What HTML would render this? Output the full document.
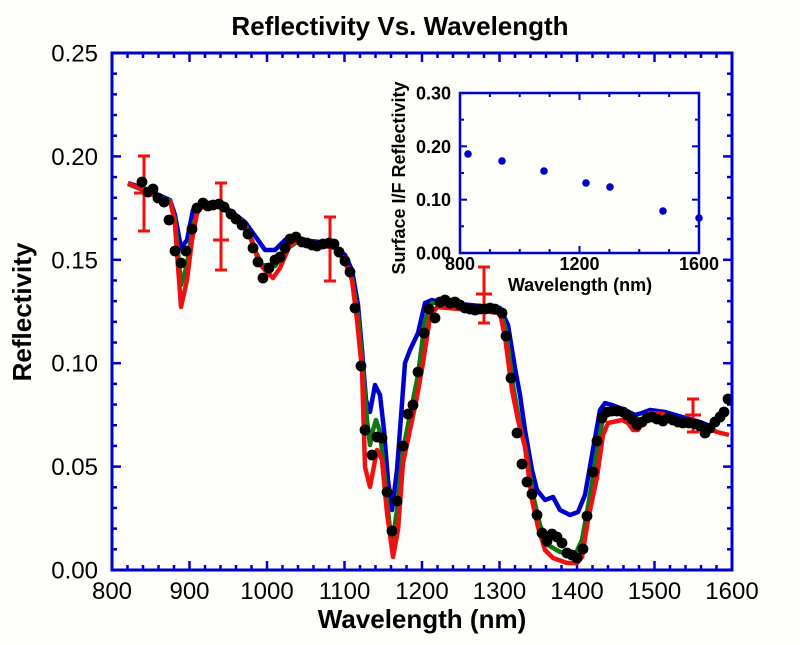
<!DOCTYPE html>
<html><head><meta charset="utf-8"><style>
html,body{margin:0;padding:0;background:#fdfdf9;}
svg{display:block;}
text{font-family:"Liberation Sans",Arial,sans-serif;fill:#000;}
</style></head><body>
<svg id="s" width="800" height="645" viewBox="0 0 800 645" xmlns="http://www.w3.org/2000/svg">
<rect width="800" height="645" fill="#fdfdf9"/>
<text x="400" y="35" font-size="26" font-weight="bold" text-anchor="middle">Reflectivity Vs. Wavelength</text>
<text transform="translate(31,312) rotate(-90)" font-size="26" font-weight="bold" text-anchor="middle">Reflectivity</text>
<text x="422" y="628" font-size="26" font-weight="bold" text-anchor="middle">Wavelength (nm)</text>
<g id="ticks"></g>
<g id="curves" fill="none" stroke-linejoin="round" stroke-width="4.5"></g>
<g id="err" stroke="#ee1111" stroke-width="3" fill="none"></g>
<g id="dots" fill="#000"></g>
<rect x="112" y="53" width="620" height="517" fill="none" stroke="#0000cc" stroke-width="3"/>
<g id="inset"></g>
</svg>
<script>
const NS="http://www.w3.org/2000/svg";
function el(p,t,a,txt){const e=document.createElementNS(NS,t);for(const k in a)e.setAttribute(k,a[k]);if(txt!==undefined)e.textContent=txt;document.getElementById(p).appendChild(e);return e;}
const B="#0000cc";
for(let nm=800;nm<=1600;nm+=20){const x=112+(nm-800)*0.775;const maj=nm%100==0;const L=maj?9:5;
 el("ticks","line",{x1:x,y1:570,x2:x,y2:570-L,stroke:B,"stroke-width":2.5});
 el("ticks","line",{x1:x,y1:53,x2:x,y2:53+L,stroke:B,"stroke-width":2.5});
 if(maj)el("ticks","text",{x:x,y:599,"font-size":24,"text-anchor":"middle"},String(nm));}
for(let i=0;i<=25;i++){const y=570-i*0.01*2068;const maj=i%5==0;const L=maj?9:5;
 el("ticks","line",{x1:112,y1:y,x2:112+L,y2:y,stroke:B,"stroke-width":2.5});
 el("ticks","line",{x1:732,y1:y,x2:732-L,y2:y,stroke:B,"stroke-width":2.5});
 if(maj)el("ticks","text",{x:98,y:y+8.5,"font-size":24,"text-anchor":"end"},(i/100).toFixed(2));}
function pl(col,pts){el("curves","polyline",{stroke:col,points:pts.map(p=>p.join(",")).join(" ")});}
const blue=[[128,183],[143,188],[170,200],[175,215],[181,248],[187,240],[193,210],[200,205],[220,203],[245,222],[258,240],[265,250],[275,250],[285,240],[300,240],[330,243],[345,255],[352,270],[358,305],[362,350],[366,400],[370,412],[375,385],[380,395],[384,430],[388,480],[392,510],[397,470],[400,430],[405,363],[410,350],[418,333],[425,303],[432,300],[440,302],[500,308],[508,325],[515,368],[520,395],[525,430],[532,470],[537,490],[545,500],[553,497],[560,510],[570,515],[578,512],[585,495],[592,455],[600,410],[605,403],[612,405],[625,410],[635,415],[642,413],[650,410],[665,412],[700,422],[712,427]];
const green=[[128,184],[170,201],[175,220],[181,285],[187,265],[193,225],[200,206],[220,204],[245,224],[255,250],[262,265],[275,266],[285,250],[300,240],[335,246],[345,260],[352,278],[358,315],[363,370],[367,420],[370,445],[373,430],[376,420],[380,432],[384,470],[389,520],[392,545],[397,510],[403,450],[410,415],[418,375],[425,320],[432,303],[440,303],[500,310],[506,330],[513,385],[519,420],[526,450],[533,495],[540,525],[548,545],[560,552],[575,555],[582,540],[590,495],[598,445],[603,418],[610,413],[625,413],[635,418],[642,420],[650,414],[665,415],[700,425],[712,428]];
const red=[[128,183],[143,190],[160,198],[171,203],[175,225],[181,307],[187,280],[192,240],[198,208],[205,207],[215,205],[225,210],[240,222],[252,240],[258,260],[263,268],[273,278],[280,268],[290,245],[300,240],[320,245],[335,248],[345,262],[352,280],[357,320],[362,370],[365,467],[370,487],[377,450],[382,460],[387,513],[393,557],[398,530],[403,463],[410,430],[417,397],[423,363],[430,317],[437,307],[470,310],[500,313],[505,337],[512,390],[518,420],[525,447],[532,500],[538,527],[545,550],[553,558],[567,563],[577,563],[582,557],[588,520],[597,477],[603,435],[608,423],[622,420],[628,423],[633,430],[638,430],[643,422],[650,413],[663,414],[677,420],[693,425],[707,428],[717,432],[729,435]];
pl("#0000cc",blue);pl("#117711",green);pl("#ee1111",red);
[[144,156,231,193,10],[221,183,270,240,8],[330,217,281,247,8],[484,267,323,294,8],[693,399,432,415,8]].forEach(b=>{
 el("err","line",{x1:b[0],y1:b[1],x2:b[0],y2:b[2]});
 el("err","line",{x1:b[0]-6,y1:b[1],x2:b[0]+6,y2:b[1]});
 el("err","line",{x1:b[0]-6,y1:b[2],x2:b[0]+6,y2:b[2]});
 el("err","line",{x1:b[0]-b[4],y1:b[3],x2:b[0]+b[4],y2:b[3]});});
const dots=[[142,182],[148,192],[153,189],[158,198],[164,202],[169,220],[175,251],[181,263],[186,251],[192,229],[197,208],[203,203],[208,206],[213,205],[219,204],[224,207],[231,214],[236,219],[242,225],[248,234],[253,248],[258,262],[263,278],[269,268],[275,260],[280,257],[285,248],[290,239],[296,237],[302,242],[307,243],[312,245],[317,246],[323,244],[329,243],[334,244],[339,252],[345,261],[350,272],[355,308],[361,366],[365,430],[372,455],[377,437],[382,438],[387,492],[392,531],[397,501],[403,446],[408,414],[413,405],[418,372],[424,333],[429,309],[435,318],[440,302],[445,300],[450,303],[455,302],[460,305],[465,308],[470,309],[475,310],[480,309],[485,309],[490,308],[495,309],[502,313],[506,336],[511,378],[517,433],[522,464],[527,482],[532,494],[537,515],[542,533],[547,541],[552,534],[557,537],[562,543],[567,553],[572,555],[577,558],[583,549],[587,516],[593,472],[597,441],[602,418],[607,412],[612,411],[617,411],[623,412],[627,415],[632,419],[637,425],[642,422],[647,418],[652,417],[657,419],[663,421],[668,418],[673,420],[678,422],[683,423],[689,423],[695,424],[700,426],[705,433],[710,428],[715,422],[720,417],[724,412],[728,399]];
dots.forEach(d=>el("dots","circle",{cx:d[0],cy:d[1],r:5.4}));
const IL=460,IR=699,IT=93,IBm=253;
el("inset","rect",{x:IL,y:IT,width:IR-IL,height:IBm-IT,fill:"none",stroke:B,"stroke-width":2.5});
for(let nm=800;nm<=1600;nm+=100){const x=IL+(nm-800)*(IR-IL)/800;const maj=nm%400==0;const L=maj?7:4;
 el("inset","line",{x1:x,y1:IBm,x2:x,y2:IBm-L,stroke:B,"stroke-width":2});
 el("inset","line",{x1:x,y1:IT,x2:x,y2:IT+L,stroke:B,"stroke-width":2});
 if(maj)el("inset","text",{x:x,y:270,"font-size":18,"font-weight":"bold","text-anchor":"middle"},String(nm));}
for(let i=0;i<=6;i++){const y=IBm-i*0.05*533.3;const maj=i%2==0;const L=maj?7:4;
 el("inset","line",{x1:IL,y1:y,x2:IL+L,y2:y,stroke:B,"stroke-width":2});
 el("inset","line",{x1:IR,y1:y,x2:IR-L,y2:y,stroke:B,"stroke-width":2});
 if(maj)el("inset","text",{x:451,y:y+6.5,"font-size":18,"font-weight":"bold","text-anchor":"end"},(i*0.05).toFixed(2));}
el("inset","text",{x:580,y:291,"font-size":18,"font-weight":"bold","text-anchor":"middle"},"Wavelength (nm)");
el("inset","text",{transform:"translate(405,178) rotate(-90)","font-size":18,"font-weight":"bold","text-anchor":"middle"},"Surface I/F Reflectivity");
[[468,154],[502,161],[544,171],[586,183],[610,187],[663,211],[699,218]].forEach(d=>el("inset","circle",{cx:d[0],cy:d[1],r:3.8,fill:"#0000cc"}));
</script>
</body></html>
